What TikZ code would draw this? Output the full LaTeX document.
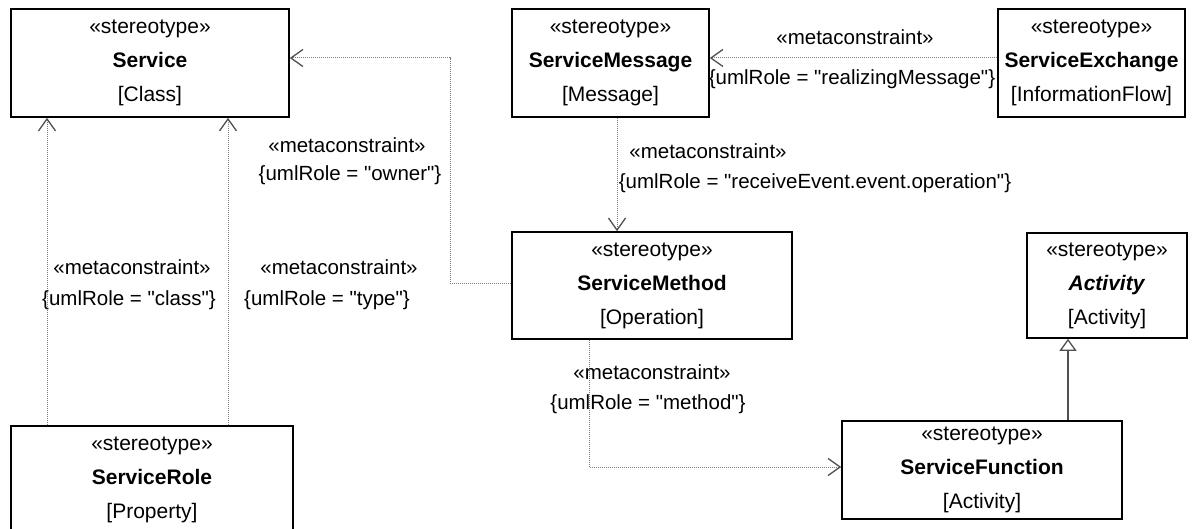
\documentclass[tikz,border=0pt]{standalone}
\usepackage{fontspec}
\setmainfont{Liberation Sans}[Ligatures=TeXOff]
\usetikzlibrary{arrows.meta}
\definecolor{conn}{RGB}{125,125,125}
\definecolor{head}{RGB}{80,80,80}
\begin{document}
\begin{tikzpicture}[x=1pt,y=-1pt,
  cls/.style={draw=black,line width=1.6pt,rectangle,inner sep=0pt,align=center,
    font=\fontsize{21}{34}\selectfont},
  dep/.style={draw=conn,line width=1pt,dash pattern=on 1pt off 1pt,
    -{Straight Barb[length=12pt,width=17pt,line width=1.3pt,color=head]}},
  gen/.style={draw=head,line width=1.6pt,
    -{Triangle[open,length=12pt,width=17pt,line width=1.3pt,fill=white]}},
  lbl/.style={inner sep=0pt,font=\fontsize{20.5}{25}\selectfont}]
\useasboundingbox (0,0) rectangle (1196,529);
\fill[white] (0,0) rectangle (1196,529);
% classes
\node[cls,minimum width=278pt,minimum height=108pt] (svc) at (150,63)
  {«stereotype»\\\textbf{Service}\\{}[Class]};
\node[cls,minimum width=197pt,minimum height=108pt] (msg) at (610.5,63)
  {«stereotype»\\\textbf{ServiceMessage}\\{}[Message]};
\node[cls,minimum width=187pt,minimum height=108pt] (ex) at (1091.5,63)
  {«stereotype»\\\textbf{ServiceExchange}\\{}[InformationFlow]};
\node[cls,minimum width=280pt,minimum height=107pt] (meth) at (652,285.5)
  {«stereotype»\\\textbf{ServiceMethod}\\{}[Operation]};
\node[cls,minimum width=160pt,minimum height=105pt] (act) at (1107,285.5)
  {«stereotype»\\\textbf{\textit{Activity}}\\{}[Activity]};
\node[cls,minimum width=280pt,minimum height=98pt] (fn) at (982,470)
  {«stereotype»\\\textbf{ServiceFunction}\\{}[Activity]};
\node[cls,minimum width=282pt,minimum height=107pt] (role) at (152,479.5)
  {«stereotype»\\\textbf{ServiceRole}\\{}[Property]};
% connectors
\draw[dep] (role.north -| 47,0) -- (svc.south -| 47,0);
\draw[dep] (role.north -| 228,0) -- (svc.south -| 228,0);
\draw[dep] (meth.west |- 0,283) -- (450,283) |- (svc.east |- 0,58);
\draw[dep] (ex.west |- 0,58) -- (msg.east |- 0,58);
\draw[dep] (msg.south -| 617,0) -- (meth.north -| 617,0);
\draw[dep] (meth.south -| 589,0) |- (fn.west |- 0,467);
\draw[gen] (fn.north -| 1068,0) -- (act.south -| 1068,0);
% labels
\node[lbl] (l1a) at (132,267) {«metaconstraint»};
\node[lbl] (l1b) at (129,300) {\{umlRole = "class"\}};
\node[lbl] (l2a) at (339,267) {«metaconstraint»};
\node[lbl] (l2b) at (327,300) {\{umlRole = "type"\}};
\node[lbl] (l3a) at (347,145) {«metaconstraint»};
\node[lbl] (l3b) at (350,175) {\{umlRole = "owner"\}};
\node[lbl] (l4a) at (855,37) {«metaconstraint»};
\node[lbl] (l4b) at (852,79) {\{umlRole = "realizingMessage"\}};
\node[lbl] (l5a) at (708,151) {«metaconstraint»};
\node[lbl] (l5b) at (815,183) {\{umlRole = "receiveEvent.event.operation"\}};
\node[lbl] (l6a) at (652,372) {«metaconstraint»};
\node[lbl] (l6b) at (648,404) {\{umlRole = "method"\}};
\end{tikzpicture}
\end{document}
